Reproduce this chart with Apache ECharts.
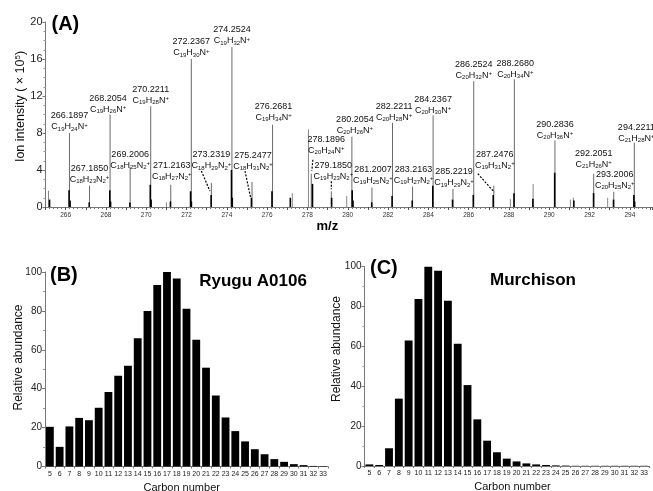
<!DOCTYPE html>
<html><head><meta charset="utf-8">
<script src="https://cdn.jsdelivr.net/npm/echarts@6/dist/echarts.min.js"></script>
<style>html,body{margin:0;padding:0;background:#fff}#c{width:653px;height:491px}</style>
</head><body><div id="c"></div>
<script>
const FONT = 'Arial, "Liberation Sans", Helvetica, sans-serif';

// ---------- Panel A : mass spectrum ----------
const labeledMass = [266.1897, 267.1850, 268.2054, 269.2006, 270.2211, 271.2163, 272.2367, 273.2319, 274.2524, 275.2477, 276.2681, 278.1896, 279.1850, 280.2054, 281.2007, 282.2211, 283.2163, 284.2367, 285.2219, 286.2524, 287.2476, 288.2680, 290.2836, 292.2051, 293.2006, 294.2211];
const labeledHeight = [8.0, 2.3, 10.0, 4.3, 10.9, 2.4, 16.0, 2.6, 17.3, 2.7, 8.9, 3.6, 1.7, 7.6, 2.1, 9.1, 2.2, 9.9, 1.95, 13.6, 2.3, 13.8, 7.2, 3.6, 1.65, 6.95];
const labeledFormula = ['C19H24N+', 'C18H23N2+', 'C19H26N+', 'C18H25N2+', 'C19H28N+', 'C18H27N2+', 'C19H30N+', 'C18H29N2+', 'C19H32N+', 'C18H31N2+', 'C19H34N+', 'C20H24N+', 'C19H23N2+', 'C20H26N+', 'C19H25N2+', 'C20H28N+', 'C19H27N2+', 'C20H30N+', 'C19H29N2+', 'C20H32N+', 'C19H31N2+', 'C20H34N+', 'C20H36N+', 'C21H26N+', 'C20H25N2+', 'C21H28N+'];
const otherPeakMass = [265.15, 271.00, 277.25, 278.05, 279.95, 288.07, 289.20, 291.05, 291.20, 292.90];
const otherPeakHeight = [1.76, 0.5, 1.5, 8.4, 1.2, 0.85, 2.5, 0.8, 1.0, 1.0];
const clusterMass = [265.20, 266.17, 266.22, 267.17, 268.19, 268.23, 269.19, 270.20, 270.24, 271.20, 272.20, 272.24, 273.22, 274.23, 274.27, 275.22, 276.24, 277.15, 278.25, 279.20, 280.22, 280.26, 281.19, 282.20, 283.20, 284.22, 285.20, 286.23, 287.22, 288.25, 289.19, 290.27, 291.22, 292.20, 293.19, 294.20, 294.24];
const clusterHeight = [0.8, 1.8, 0.7, 0.5, 1.8, 0.6, 0.5, 2.4, 0.8, 0.6, 1.7, 0.6, 1.3, 4.0, 1.0, 1.0, 1.7, 1.0, 2.5, 1.0, 1.8, 0.7, 0.5, 1.2, 0.7, 2.3, 0.8, 1.3, 1.3, 1.5, 0.9, 3.7, 0.7, 1.5, 0.8, 1.3, 0.6];
const mzMin = 265, mzMax = 295.1;
const intensityTicks = [0, 4, 8, 12, 16, 20];

// label layout (pixel offsets from peak top) — layout, not data
const labelOffset = [[0,-17],[0,-17],[-2,-16],[0,-13],[0,-17],[1,-19],[0,-17],[0,-28],[0,-17],[1,-27],[1,-18],[15,-34],[2,-26],[3,-17],[1,-18],[1.6,-16],[1,-17],[0,-16],[1,-17],[0,-17],[1,-31],[1,-16],[0,-16],[0,-20],[1,-17],[2,-15]];
const leaderLayout = {7: [-10,-12,-1.5,8], 9: [-7,-11,-1.5,15], 11: [1.6,-14,0.6,-3], 12: [0,-10,0,-2], 20: [-16,-12,0.5,6.5]};

// ---------- Panels B, C : carbon number distributions ----------
const carbonNumbers = ['5','6','7','8','9','10','11','12','13','14','15','16','17','18','19','20','21','22','23','24','25','26','27','28','29','30','31','32','33'];
const ryuguValues = [20.4, 10.1, 20.6, 25.0, 23.8, 30.2, 38.3, 46.7, 51.8, 66.0, 79.9, 93.3, 100, 96.6, 81.1, 65.2, 50.8, 36.5, 25.2, 18.2, 12.9, 8.9, 6.3, 3.8, 2.4, 1.2, 0.7, 0.3, 0.2];
const murchisonValues = [0.8, 0.5, 8.9, 33.8, 63.0, 83.8, 100, 98.0, 82.9, 61.4, 40.6, 23.4, 12.7, 6.9, 3.7, 2.3, 1.3, 0.8, 0.5, 0.3, 0.2, 0.1, 0.1, 0.1, 0.1, 0.1, 0.1, 0.1, 0.1];
const abundanceTicks = [0, 20, 40, 60, 80, 100];

const RICH = {
  n: {fontSize: 9, fontFamily: FONT, lineHeight: 10, fill: '#111'},
  s: {fontSize: 6, fontFamily: FONT, lineHeight: 6, verticalAlign: 'bottom', fill: '#111'},
  p: {fontSize: 6, fontFamily: FONT, lineHeight: 6, verticalAlign: 'top', fill: '#111'}
};
function formulaRich(f) {
  let out = '';
  const re = /([A-Z][a-z]?)(\d*)|(\+)/g; let m;
  while ((m = re.exec(f)) !== null) {
    if (m[3]) out += '{p|+}';
    else { out += '{n|' + m[1] + '}'; if (m[2]) out += '{s|' + m[2] + '}'; }
  }
  return out;
}

function stickRender(color, width) {
  return function (params, api) {
    const x = api.value(0), y = api.value(1);
    const p0 = api.coord([x, 0]), p1 = api.coord([x, y]);
    return {type: 'line', shape: {x1: p0[0], y1: p0[1], x2: p1[0], y2: p1[1]}, style: {stroke: color, lineWidth: width}};
  };
}

const chart = echarts.init(document.getElementById('c'), null, {renderer: 'canvas'});

const axisLineStyle = {color: '#777', width: 1};
const catAxis = (gi) => ({
  type: 'category', gridIndex: gi, data: carbonNumbers,
  axisLine: {lineStyle: axisLineStyle},
  axisTick: {show: true, length: 2, lineStyle: {color: '#777'}},
  axisLabel: {interval: 0, fontSize: 7, fontFamily: FONT, color: '#222', margin: 4}
});
const abAxis = (gi) => ({
  type: 'value', gridIndex: gi, min: abundanceTicks[0], max: abundanceTicks[abundanceTicks.length - 1], interval: 20,
  axisLine: {show: true, lineStyle: axisLineStyle},
  axisTick: {show: true, length: 3, lineStyle: {color: '#777'}},
  minorTick: {show: true, splitNumber: 2, length: 2, lineStyle: {color: '#999'}},
  splitLine: {show: false},
  axisLabel: {fontSize: 10, fontFamily: FONT, color: '#222', margin: 3}
});

const option = {
  animation: false,
  backgroundColor: '#fff',
  grid: [
    {left: 45.5, top: 22, width: 607.5, height: 185},
    {left: 45, top: 272, width: 283, height: 194.5},
    {left: 364.5, top: 266.7, width: 284.5, height: 199.3}
  ],
  xAxis: [
    {type: 'value', gridIndex: 0, min: mzMin, max: mzMax, interval: 1,
     axisLine: {lineStyle: axisLineStyle},
     axisTick: {show: true, length: 3, lineStyle: {color: '#555'}},
     minorTick: {show: true, splitNumber: 5, length: 2, lineStyle: {color: '#777'}},
     splitLine: {show: false},
     axisLabel: {fontSize: 6.5, fontFamily: FONT, color: '#333', margin: 5, showMinLabel: true, showMaxLabel: false,
       formatter: v => (Math.round(v) % 2 === 0 ? String(v) : '')}},
    catAxis(1), catAxis(2)
  ],
  yAxis: [
    {type: 'value', gridIndex: 0, min: intensityTicks[0], max: intensityTicks[intensityTicks.length - 1], interval: 4,
     axisLine: {show: true, lineStyle: axisLineStyle},
     axisTick: {show: true, length: 3, lineStyle: {color: '#777'}},
     minorTick: {show: true, splitNumber: 4, length: 2, lineStyle: {color: '#999'}},
     splitLine: {show: false},
     axisLabel: {fontSize: 11, fontFamily: FONT, color: '#222', margin: 3}},
    abAxis(1), abAxis(2)
  ],
  series: [
    {type: 'custom', xAxisIndex: 0, yAxisIndex: 0, clip: true, renderItem: stickRender('#888', 1),
     data: otherPeakMass.map((m, i) => [m, otherPeakHeight[i]])},
    {type: 'custom', xAxisIndex: 0, yAxisIndex: 0, clip: true, renderItem: stickRender('#6a6a6a', 1),
     data: labeledMass.map((m, i) => [m, labeledHeight[i]])},
    {type: 'custom', xAxisIndex: 0, yAxisIndex: 0, clip: true, renderItem: stickRender('#000', 1.6),
     data: clusterMass.map((m, i) => [m, clusterHeight[i]])},
    {type: 'custom', xAxisIndex: 0, yAxisIndex: 0, clip: false, z: 5,
     data: labeledMass.map((m, i) => [m, labeledHeight[i], i]),
     renderItem: function (params, api) {
       const i = api.value(2);
       const top = api.coord([api.value(0), api.value(1)]);
       const off = labelOffset[i];
       const cx = top[0] + off[0], cy = top[1] + off[1];
       const children = [
         {type: 'text', x: cx, y: cy, style: {text: labeledMass[i].toFixed(4), fontSize: 9, fontFamily: FONT, fill: '#111', align: 'center', verticalAlign: 'middle'}},
         {type: 'text', x: cx, y: cy + 11, style: {text: formulaRich(labeledFormula[i]), rich: RICH, fontSize: 9, fontFamily: FONT, fill: '#111', align: 'center', verticalAlign: 'middle'}}
       ];
       const ld = leaderLayout[i];
       if (ld) children.push({type: 'line', shape: {x1: top[0] + ld[0], y1: top[1] + ld[1], x2: top[0] + ld[2], y2: top[1] + ld[3]}, style: {stroke: '#000', lineWidth: 1.2, lineDash: [2, 1.5]}});
       return {type: 'group', children: children};
     }},
    {type: 'bar', xAxisIndex: 1, yAxisIndex: 1, data: ryuguValues, barCategoryGap: '20%', itemStyle: {color: '#000'}},
    {type: 'bar', xAxisIndex: 2, yAxisIndex: 2, data: murchisonValues, barCategoryGap: '20%', itemStyle: {color: '#000'}}
  ],
  graphic: [
    {type: 'text', x: 51.5, y: 24, style: {text: '(A)', font: 'bold 20px ' + FONT, fill: '#000', align: 'left', verticalAlign: 'middle'}},
    {type: 'text', x: 20.7, y: 106.5, rotation: Math.PI / 2, style: {text: '{a|Ion intensity ( × 10}{b|5}{a|)}', rich: {a: {fontSize: 12.5, fontFamily: FONT, lineHeight: 14, fill: '#111'}, b: {fontSize: 8, fontFamily: FONT, lineHeight: 8, verticalAlign: 'top', fill: '#111'}}, align: 'center', verticalAlign: 'middle'}},
    {type: 'text', x: 327.3, y: 226.7, style: {text: 'm/z', font: 'bold 13px ' + FONT, fill: '#000', align: 'center', verticalAlign: 'middle'}},
    {type: 'text', x: 50, y: 275, style: {text: '(B)', font: 'bold 20px ' + FONT, fill: '#000', align: 'left', verticalAlign: 'middle'}},
    {type: 'text', x: 253, y: 281.7, style: {text: 'Ryugu A0106', font: 'bold 17px ' + FONT, fill: '#000', align: 'center', verticalAlign: 'middle'}},
    {type: 'text', x: 18.3, y: 357.5, rotation: Math.PI / 2, style: {text: 'Relative abundance', font: '12px ' + FONT, fill: '#111', align: 'center', verticalAlign: 'middle'}},
    {type: 'text', x: 181.7, y: 487.7, style: {text: 'Carbon number', font: '11px ' + FONT, fill: '#111', align: 'center', verticalAlign: 'middle'}},
    {type: 'text', x: 370, y: 268.3, style: {text: '(C)', font: 'bold 20px ' + FONT, fill: '#000', align: 'left', verticalAlign: 'middle'}},
    {type: 'text', x: 533, y: 280.7, style: {text: 'Murchison', font: 'bold 17px ' + FONT, fill: '#000', align: 'center', verticalAlign: 'middle'}},
    {type: 'text', x: 336.7, y: 349, rotation: Math.PI / 2, style: {text: 'Relative abundance', font: '12px ' + FONT, fill: '#111', align: 'center', verticalAlign: 'middle'}},
    {type: 'text', x: 512.5, y: 486.7, style: {text: 'Carbon number', font: '11px ' + FONT, fill: '#111', align: 'center', verticalAlign: 'middle'}}
  ]
};
chart.setOption(option);
</script>
</body></html>
